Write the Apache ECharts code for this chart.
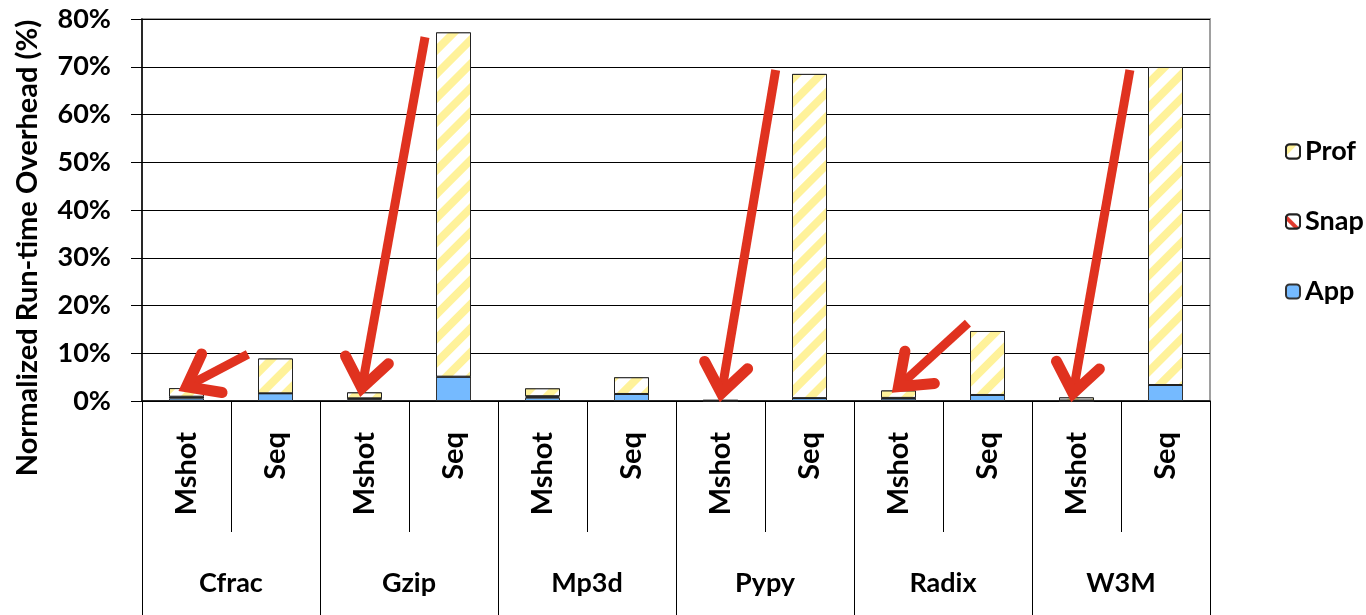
<!DOCTYPE html>
<html><head><meta charset="utf-8">
<script src="https://cdn.jsdelivr.net/npm/echarts@6/dist/echarts.min.js"></script>
<style>html,body{margin:0;padding:0;background:#fff}#c{width:1366px;height:615px}</style>
</head><body><div id="c"></div>
<script>
// ---- data ----
const groups = ['Cfrac','Gzip','Mp3d','Pypy','Radix','W3M'];
const variants = ['Mshot','Seq'];
const appVals  = [0.55, 1.6, 0.35, 5.1, 0.7, 1.47, 0.05, 0.6, 0.5, 1.26, 0.05, 3.35];
const snapVals = [0.35, 0.0, 0.2, 0.0, 0.3, 0.0, 0.05, 0.0, 0.15, 0.0, 0.05, 0.0];
const profVals = [1.8, 7.3, 1.25, 72.1, 1.65, 3.5, 0.05, 67.9, 1.55, 13.4, 0.65, 66.6];
const yTicks = [0,10,20,30,40,50,60,70,80];
const yTitle = 'Normalized Run-time Overhead (%)';
// annotation arrows: [startIndex, startValue, tipIndex, tipValue]
const arrows = [
  [0.69, 9.8, 0.0, 3.0],
  [2.68, 76.2, 1.97, 2.7],
  [6.62, 69.3, 6.01, 1.6],
  [8.78, 16.3, 8.0, 3.0],
  [10.6, 69.3, 9.96, 1.6]
];

const categories = [];
groups.forEach(g => variants.forEach(v => categories.push(v)));

const FONT = 'Lato';
const G = {left:142, right:156, top:19, bottom:214};
const chart = echarts.init(document.getElementById('c'));

const option = {
  animation:false,
  backgroundColor:'#fff',
  textStyle:{fontFamily:FONT},
  grid:{left:G.left, right:G.right, top:G.top, bottom:G.bottom, show:true, borderColor:'#a0a0a0', borderWidth:2, containLabel:false},
  legend:{
    orient:'vertical', left:1280, top:133, itemWidth:14, itemHeight:14, itemGap:43,
    data:['Prof','Snap','App'],
    textStyle:{fontFamily:FONT, fontWeight:'bold', fontSize:27, color:'#000'}
  },
  xAxis:[{
    type:'category', data:categories, position:'bottom',
    axisLine:{show:true, lineStyle:{color:'#000', width:1.5}},
    axisTick:{show:true, interval:0, length:131, lineStyle:{color:'#000', width:1}},
    axisLabel:{interval:0, rotate:90, margin:31, fontFamily:FONT, fontWeight:'bold', fontSize:29, color:'#000'}
  },{
    type:'category', data:groups, position:'bottom',
    axisLine:{show:false},
    axisTick:{show:true, interval:0, length:214, lineStyle:{color:'#000', width:1}},
    axisLabel:{interval:0, margin:169, fontFamily:FONT, fontWeight:'bold', fontSize:27, color:'#000'}
  }],
  yAxis:{
    type:'value', min:0, max:80, interval:10,
    axisLine:{show:true, lineStyle:{color:'#000', width:1.5}},
    axisTick:{show:true, length:11, lineStyle:{color:'#000'}},
    splitLine:{show:true, lineStyle:{color:'#000', width:1}},
    axisLabel:{formatter: v => v + '%', margin:31, fontFamily:FONT, fontWeight:'bold', fontSize:27, color:'#000'}
  },
  series:[
    {name:'App', type:'bar', stack:'s', barWidth:35, data:appVals,
     itemStyle:{color:'#75BAFF', borderColor:'#333', borderWidth:1}},
    {name:'Snap', type:'bar', stack:'s', barWidth:35, data:snapVals,
     itemStyle:{color:'#fff', borderColor:'#222', borderWidth:1.5,
       decal:{symbol:'rect', symbolSize:1, color:'#E03A2E', backgroundColor:'#fff', dashArrayX:[1,0], dashArrayY:[4,8], rotation:Math.PI/4}}},
    {name:'Prof', type:'bar', stack:'s', barWidth:35, data:profVals,
     itemStyle:{color:'#fff', borderColor:'#222', borderWidth:1,
       decal:{symbol:'rect', symbolSize:1, color:'#FFF29A', backgroundColor:'#fff', dashArrayX:[1,0], dashArrayY:[8,9], rotation:-Math.PI/4}}}
  ]
};
chart.setOption(option);

// arrows drawn in data coordinates converted to pixels
function px(idx, val){
  const w = 1366 - G.left - G.right;
  const slot = w / categories.length;
  const x = G.left + (idx + 0.5) * slot;
  const y = chart.convertToPixel({yAxisIndex:0}, val);
  return [x, y];
}
const RED = '#E0321F';
const elements = [];
arrows.forEach(a => {
  const s = px(a[0], a[1]), t = px(a[2], a[3]);
  const ang = Math.atan2(t[1]-s[1], t[0]-s[0]);
  const L = 36, spread = 0.65;
  const back = 5;
  const tip = t;
  const shaftEnd = [t[0] - Math.cos(ang)*back, t[1] - Math.sin(ang)*back];
  const p1 = [tip[0] - L*Math.cos(ang - spread), tip[1] - L*Math.sin(ang - spread)];
  const p2 = [tip[0] - L*Math.cos(ang + spread), tip[1] - L*Math.sin(ang + spread)];
  elements.push({type:'polyline', z:100, shape:{points:[s, shaftEnd]}, style:{stroke:RED, lineWidth:9, lineCap:'butt'}});
  elements.push({type:'polyline', z:100, shape:{points:[p1, tip, p2]}, style:{stroke:RED, lineWidth:11, lineCap:'round', lineJoin:'miter', fill:null}});
});
// rotated y-axis title
elements.push({type:'text', x:28, y:248, rotation:Math.PI/2, z:50,
  style:{text:yTitle, font:'bold 29px Lato', fill:'#000', align:'center', verticalAlign:'middle'}});
chart.setOption({graphic:{elements}});
</script></body></html>
